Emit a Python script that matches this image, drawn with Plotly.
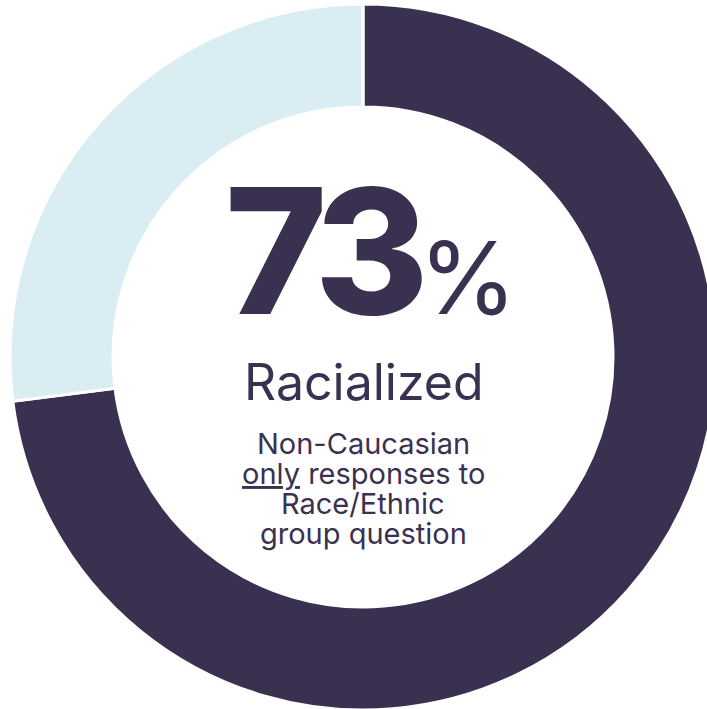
import plotly.graph_objects as go

# Survey shares
labels = ["Racialized", "Not racialized"]
values = [73, 27]
colors = ["#3a3151", "#daedf3"]

W, H = 726, 714
cx, cy, r_out = 363, 357, 353

fig = go.Figure(
    go.Pie(
        labels=labels,
        values=values,
        hole=250 / 353,
        sort=False,
        direction="clockwise",
        rotation=0,
        marker=dict(colors=colors, line=dict(color="white", width=3)),
        textinfo="none",
        hoverinfo="label+percent",
        domain=dict(x=[0, 1], y=[(cy - r_out) / H, (cy + r_out) / H]),
    )
)

ink = "#3a3151"
font = "Inter"


def px(x, y):
    return x / W, 1 - y / H


annotations = []
x0, y0 = px(371, 251)
annotations.append(dict(
    x=x0, y=y0, xref="paper", yref="paper", showarrow=False,
    text=(f"<span style='letter-spacing:-10px'>{values[0]}</span>"
          "<span style='font-size:100px;font-weight:400'>%</span>"),
    font=dict(family=font, size=174, color=ink, weight=800),
    xanchor="center", yanchor="middle",
))
x1, y1 = px(364, 382)
annotations.append(dict(
    x=x1, y=y1, xref="paper", yref="paper", showarrow=False,
    text=labels[0],
    font=dict(family=font, size=50, color=ink, weight=400),
    xanchor="center", yanchor="middle",
))
body_lines = [
    "Non-Caucasian",
    "<span style='text-decoration:underline'>only</span> responses to",
    "Race/Ethnic",
    "group question",
]
for i, line in enumerate(body_lines):
    xb, yb = px(363, 443 + i * 30)
    annotations.append(dict(
        x=xb, y=yb, xref="paper", yref="paper", showarrow=False,
        text=line,
        font=dict(family=font, size=29, color=ink, weight=400),
        xanchor="center", yanchor="middle",
    ))

fig.update_layout(
    width=W, height=H,
    margin=dict(l=0, r=0, t=0, b=0),
    paper_bgcolor="white",
    showlegend=False,
    annotations=annotations,
)

fig.write_html(
    "out.html",
    post_script="document.documentElement.style.overflow='hidden';document.body.style.overflow='hidden';document.body.style.margin='0';",
)
